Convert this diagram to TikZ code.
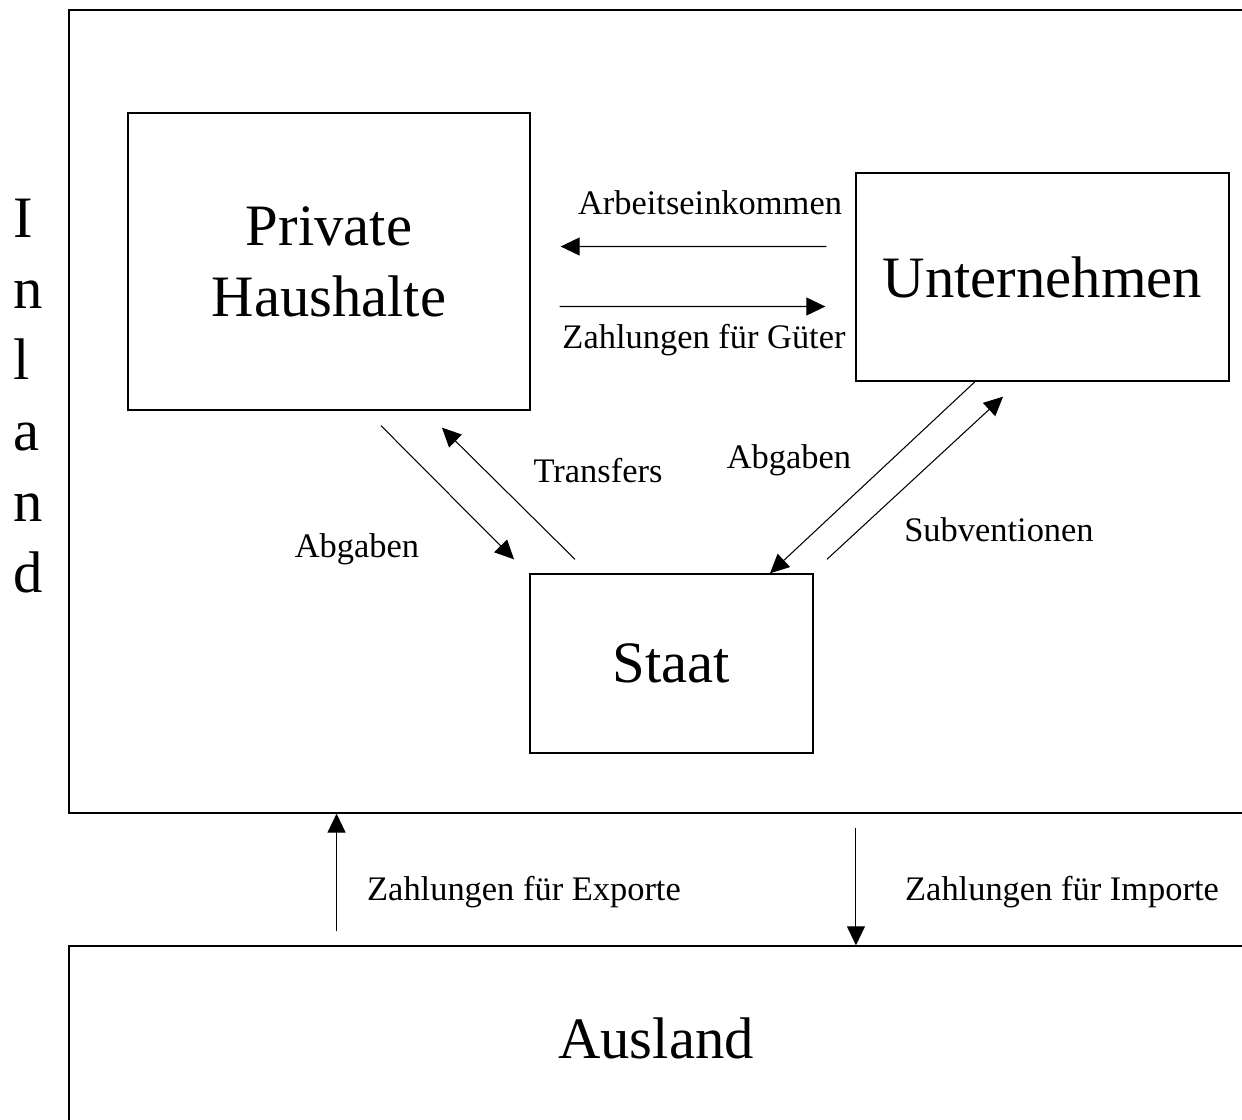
\documentclass[tikz,border=0pt]{standalone}
\usepackage{fontspec}
\setmainfont{Liberation Serif}
\usetikzlibrary{arrows.meta}

\begin{document}
\begin{tikzpicture}[
    x=0.02cm, y=-0.02cm,
    region/.style={draw, line width=0.8pt, inner sep=0pt, align=center,
                   font=\fontsize{33.4}{40.3}\selectfont},
    sector/.style={draw, line width=0.8pt, inner sep=0pt, align=center,
                   font=\fontsize{33.4}{40.3}\selectfont},
    letter/.style={inner sep=0pt, anchor=base west, font=\fontsize{33.4}{40.3}\selectfont},
    flow/.style={inner sep=0pt, anchor=base, font=\fontsize{19.6}{23.5}\selectfont},
    arr/.style={-{Triangle[length=0.38cm, width=0.36cm]}, line width=0.6pt},
]
\useasboundingbox (0,0) rectangle (1242,1120);

% Inland / Ausland
\node[region, minimum width=23.48cm, minimum height=16.06cm] (inland) at (656,411.5) {};
\node[region, minimum width=23.48cm, minimum height=3.70cm] (ausland) at (656,1038.5) {Ausland};
\foreach \ch [count=\i from 0] in {I,n,l,a,n,d}
    \node[letter] (inl\i) at (13,237+71*\i) {\ch};

% Sectors
\node[sector, minimum width=8.04cm, minimum height=5.94cm] (hh)    at (329,261.5)  {Private\\Haushalte};
\node[sector, minimum width=7.46cm, minimum height=4.16cm] (unt)   at (1042.5,277) {Unternehmen};
\node[sector, minimum width=5.66cm, minimum height=3.58cm] (staat) at (671.5,663.5) {Staat};

% Haushalte <-> Unternehmen
\draw[arr] ([xshift=-0.58cm, yshift=0.61cm]unt.west) -- ([xshift=0.6cm, yshift=0.3cm]hh.east);
\draw[arr] ([xshift=0.58cm, yshift=-0.9cm]hh.east) -- ([xshift=-0.6cm, yshift=-0.59cm]unt.west);
\node[flow] (arbeit) at (710,214) {Arbeitseinkommen};
\node[flow] (gueter) at (704,348) {Zahlungen für Güter};

% Haushalte <-> Staat
\draw[arr] ([xshift=1.04cm, yshift=-0.3cm]hh.south) -- ([xshift=-3.15cm, yshift=0.28cm]staat.north);
\draw[arr] ([xshift=-1.93cm, yshift=0.28cm]staat.north) -- ([xshift=2.26cm, yshift=-0.34cm]hh.south);
\node[flow] (abgabenhh) at (357,557) {Abgaben};
\node[flow] (transfers) at (598,482) {Transfers};

% Unternehmen <-> Staat
\draw[arr] ([xshift=-1.35cm]unt.south) -- ([xshift=1.97cm]staat.north);
\draw[arr] ([xshift=3.11cm, yshift=0.28cm]staat.north) -- ([xshift=-0.79cm, yshift=-0.3cm]unt.south);
\node[flow] (abgabenu) at (789,468) {Abgaben};
\node[flow] (subv)     at (999,541) {Subventionen};

% Inland <-> Ausland
\draw[arr] ([xshift=-6.39cm, yshift=0.28cm]ausland.north) -- ([xshift=-6.39cm]inland.south);
\draw[arr] ([xshift=4cm, yshift=-0.28cm]inland.south) -- ([xshift=4cm]ausland.north);
\node[flow] (export) at (524,900) {Zahlungen für Exporte};
\node[flow] (import) at (1062,900) {Zahlungen für Importe};
\end{tikzpicture}
\end{document}
